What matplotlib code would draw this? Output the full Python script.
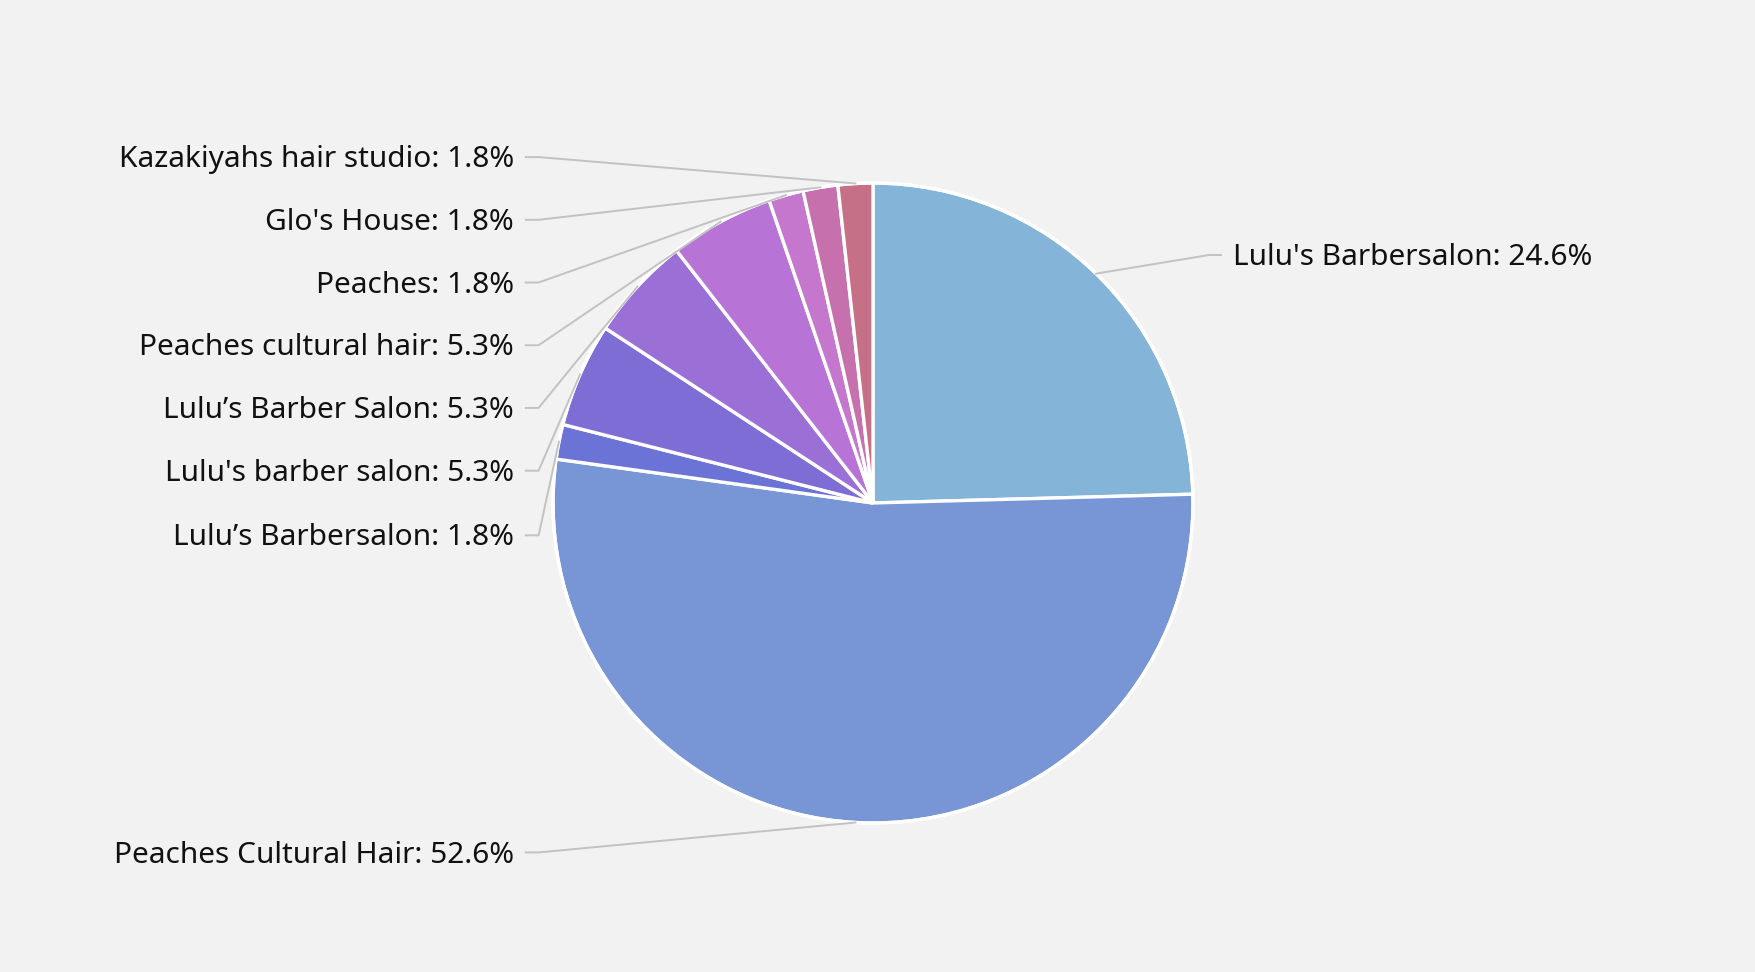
import numpy as np
import matplotlib.pyplot as plt

shops = ["Lulu's Barbersalon", "Peaches Cultural Hair", "Lulu\u2019s Barbersalon",
         "Lulu's barber salon", "Lulu\u2019s Barber Salon", "Peaches cultural hair",
         "Peaches", "Glo's House", "Kazakiyahs hair studio"]
visits = [14, 30, 1, 3, 3, 3, 1, 1, 1]
colors = ["#84b4d8", "#7895d6", "#6b74d6", "#7f6dd6", "#9b70d6",
          "#b774d6", "#c477cc", "#c670ad", "#c67088"]

bg = "#f2f2f2"
R_PX = 320
W, H = 1756, 972
cx, cy = 873, 503

fig = plt.figure(figsize=(W / 100, H / 100), dpi=100, facecolor=bg)
ax = fig.add_axes([0, 0, 1, 1])
ax.set_facecolor(bg)

wedges, _ = ax.pie(visits, colors=colors, startangle=90, counterclock=False,
                   wedgeprops=dict(edgecolor="white", linewidth=2.4))
ax.add_patch(plt.Circle((0, 0), 1.0, fill=False, ec="white", lw=2.4))
ax.set_xlim(-cx / R_PX, (W - cx) / R_PX)
ax.set_ylim(-(H - cy) / R_PX, cy / R_PX)
ax.set_aspect("auto")
ax.axis("off")

total = sum(visits)
line_c = "#c2c2c2"
fs = 21.5
font = "Noto Sans"

# left column for small slices, stacked top-down from the last slice
left_y = {8: 1.081, 7: 0.885, 6: 0.689, 5: 0.493, 4: 0.297, 3: 0.101, 2: -0.101, 1: -1.092}
for i, w in enumerate(wedges):
    mid = np.deg2rad((w.theta1 + w.theta2) / 2)
    px, py = np.cos(mid), np.sin(mid)
    label = f"{shops[i]}: {100 * visits[i] / total:.1f}%"
    if i == 0:
        ty = 0.775
        ax.plot([px, 1.05, 1.0875], [py, ty, ty], color=line_c, lw=1.4)
        ax.text(1.125, ty - 0.008, label, ha="left", va="center", fontsize=fs,
                family=font, color="#111111")
    else:
        ty = left_y[i]
        ax.plot([px, -1.045, -1.085], [py, ty, ty], color=line_c, lw=1.4)
        ax.text(-1.122, ty - 0.008, label, ha="right", va="center", fontsize=fs,
                family=font, color="#111111")

fig.savefig("out.png", dpi=100, facecolor=bg)
